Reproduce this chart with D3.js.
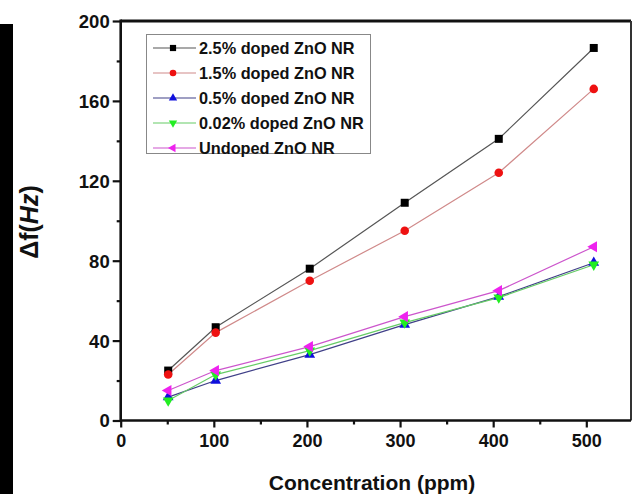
<!DOCTYPE html>
<html>
<head>
<meta charset="utf-8">
<script src="https://cdn.jsdelivr.net/npm/d3@7"></script>
<style>
  html, body { margin: 0; padding: 0; background: #fff; }
  svg { display: block; }
  text { font-family: "Liberation Sans", Arial, sans-serif; font-weight: bold; fill: #111; }
</style>
</head>
<body>
<svg id="chart" width="633" height="494"></svg>
<script>
// ====================================
// Données
// ====================================
const concentrations = [51, 102, 203, 305, 406, 508];
const seriesNames = ["2.5% doped ZnO NR", "1.5% doped ZnO NR", "0.5% doped ZnO NR", "0.02% doped ZnO NR", "Undoped ZnO NR"];
const doped25 = [25, 46.7, 76, 109, 141, 186.5];
const doped15 = [23, 44, 70, 95, 124, 166];
const doped05 = [11.7, 20, 33, 48, 62, 79];
const doped002 = [10, 23, 35, 49, 61.5, 78];
const undoped = [15, 25, 37, 52, 65, 87];
const xMajorTicks = [0, 100, 200, 300, 400, 500];
const xMinorTicks = [50, 150, 250, 350, 450];
const yMajorTicks = [0, 40, 80, 120, 160, 200];
const yMinorTicks = [20, 60, 100, 140, 180];

const seriesValues = [doped25, doped15, doped05, doped002, undoped];
const markerColors = ["#000000", "#ee1111", "#1010dd", "#22ee22", "#ee22ee"];
const lineColors = ["#555555", "#d08a8a", "#404088", "#66cc66", "#cc55cc"];
const symbolTypes = [d3.symbolSquare, d3.symbolCircle, d3.symbolTriangle, d3.symbolTriangle, d3.symbolTriangle];
const symbolRotations = [0, 0, 0, 180, -90];
const symbolSizes = [64, 58, 50, 50, 54];

const svg = d3.select("#chart");

// bande noire à gauche
svg.append("rect").attr("x", 0).attr("y", 24).attr("width", 13).attr("height", 470).attr("fill", "#000");

const plot = { left: 120.7, right: 631, top: 21, bottom: 420.5 };

const x = d3.scaleLinear().domain([0, 548]).range([plot.left, plot.right]);
const y = d3.scaleLinear().domain([0, 200]).range([plot.bottom, plot.top]);

// ====================================
// Axes
// ====================================
const xAxis = svg.append("g").attr("transform", `translate(0,${plot.bottom})`)
    .call(d3.axisBottom(x).tickValues(xMajorTicks).tickSize(7).tickSizeOuter(0).tickPadding(7));
const xMinor = svg.append("g").attr("transform", `translate(0,${plot.bottom})`)
    .call(d3.axisBottom(x).tickValues(xMinorTicks).tickSize(4).tickSizeOuter(0).tickFormat(""));
const yAxis = svg.append("g").attr("transform", `translate(${plot.left},0)`)
    .call(d3.axisLeft(y).tickValues(yMajorTicks).tickSize(8).tickSizeOuter(0).tickPadding(3));
const yMinor = svg.append("g").attr("transform", `translate(${plot.left},0)`)
    .call(d3.axisLeft(y).tickValues(yMinorTicks).tickSize(4).tickSizeOuter(0).tickFormat(""));

[xAxis, xMinor, yAxis, yMinor].forEach(g => {
    g.selectAll(".domain").remove();
    g.selectAll(".tick line").attr("stroke", "#111").attr("stroke-width", 2.2);
});
xAxis.selectAll(".tick text").style("font-size", "18px").attr("fill", "#111");
yAxis.selectAll(".tick text").style("font-size", "18.5px").attr("fill", "#111").attr("dy", "0.35em");

// cadre
svg.append("line").attr("x1", plot.left).attr("x2", plot.right).attr("y1", plot.top).attr("y2", plot.top)
    .attr("stroke", "#111").attr("stroke-width", 3);
svg.append("line").attr("x1", plot.right).attr("x2", plot.right).attr("y1", plot.top).attr("y2", plot.bottom)
    .attr("stroke", "#333").attr("stroke-width", 2);
svg.append("line").attr("x1", plot.left).attr("x2", plot.right).attr("y1", plot.bottom).attr("y2", plot.bottom)
    .attr("stroke", "#111").attr("stroke-width", 2.6);
svg.append("line").attr("x1", plot.left).attr("x2", plot.left).attr("y1", plot.top - 1.5).attr("y2", plot.bottom + 1.3)
    .attr("stroke", "#111").attr("stroke-width", 2.6);

// titres des axes
svg.append("text")
    .attr("x", 372).attr("y", 490)
    .attr("text-anchor", "middle")
    .style("font-size", "21px")
    .text("Concentration (ppm)");

const yLabel = svg.append("text")
    .attr("transform", "translate(38,222) rotate(-90)")
    .attr("text-anchor", "middle")
    .style("font-size", "25px");
yLabel.append("tspan").text("\u0394f(");
yLabel.append("tspan").style("font-style", "italic").text("Hz");
yLabel.append("tspan").text(")");

// ====================================
// Séries
// ====================================
const line = d3.line().x((d, i) => x(concentrations[i])).y(d => y(d));

seriesValues.forEach((values, s) => {
    svg.append("path")
        .datum(values)
        .attr("fill", "none")
        .attr("stroke", lineColors[s])
        .attr("stroke-width", 1.2)
        .attr("d", line);
});

seriesValues.forEach((values, s) => {
    svg.append("g").selectAll("path")
        .data(values)
        .join("path")
        .attr("transform", (d, i) => `translate(${x(concentrations[i])},${y(d)}) rotate(${symbolRotations[s]})`)
        .attr("d", d3.symbol().type(symbolTypes[s]).size(symbolSizes[s]))
        .attr("fill", markerColors[s]);
});

// ====================================
// Légende
// ====================================
const legend = svg.append("g");
legend.append("rect")
    .attr("x", 146.5).attr("y", 34.5).attr("width", 224).attr("height", 119)
    .attr("fill", "#fff").attr("stroke", "#888").attr("stroke-width", 1);

const legendRow = d3.scaleLinear().domain([0, 4]).range([48, 148]);
seriesNames.forEach((name, s) => {
    const ly = legendRow(s);
    legend.append("line").attr("x1", 153).attr("x2", 196).attr("y1", ly).attr("y2", ly)
        .attr("stroke", lineColors[s]).attr("stroke-width", 1.2);
    legend.append("path")
        .attr("transform", `translate(173,${ly}) rotate(${symbolRotations[s]})`)
        .attr("d", d3.symbol().type(symbolTypes[s]).size(symbolSizes[s] * 0.6))
        .attr("fill", markerColors[s]);
    legend.append("text")
        .attr("x", 199).attr("y", ly).attr("dy", "0.36em")
        .style("font-size", "16.3px")
        .text(name);
});
</script>
</body>
</html>
